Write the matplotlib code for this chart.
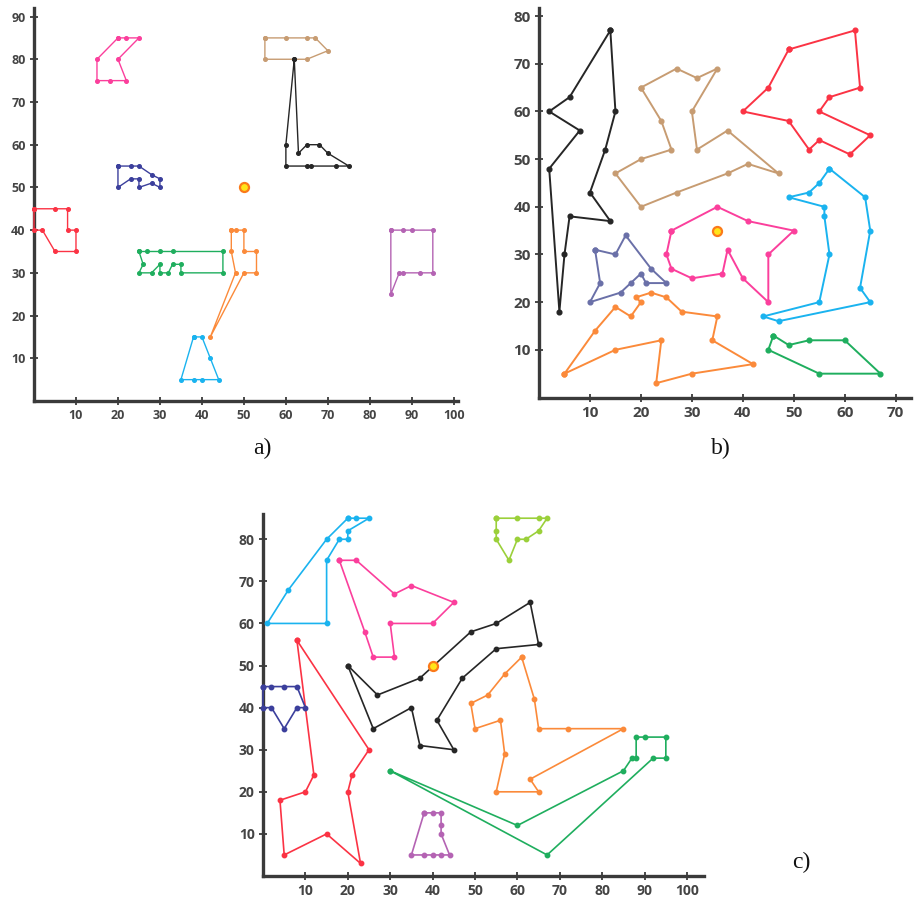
import matplotlib
matplotlib.use("Agg")
import matplotlib.pyplot as plt

# ---------------- data: panel a ----------------
A_PINK = [(20, 85), (22, 85), (25, 85), (20, 80), (22, 75), (18, 75), (15, 75), (15, 80)]
A_NAVY = [(20, 55), (23, 55), (25, 55), (28, 53), (30, 52), (30, 50), (28, 51), (25, 50),
          (25, 52), (23, 52), (20, 50)]
A_RED = [(0, 45), (5, 45), (8, 45), (8, 40), (10, 40), (10, 35), (5, 35), (2, 40), (0, 40)]
A_GREEN = [(25, 35), (27, 35), (30, 35), (33, 35), (45, 35), (45, 30), (35, 30), (35, 32),
           (33, 32), (32, 30), (30, 30), (30, 32), (28, 30), (25, 30), (26, 32)]
A_ORANGE = [(47, 40), (48, 40), (50, 40), (50, 35), (53, 35), (53, 30), (50, 30), (42, 15),
            (48, 30), (47, 35)]
A_CYAN = [(38, 15), (40, 15), (42, 10), (44, 5), (40, 5), (38, 5), (35, 5)]
A_PURPLE = [(85, 40), (88, 40), (90, 40), (95, 40), (95, 30), (92, 30), (88, 30), (87, 30), (85, 25)]
A_TAN = [(55, 85), (60, 85), (65, 85), (67, 85), (70, 82), (65, 80), (55, 80)]
A_BLACK = [(62, 80), (63, 58), (65, 60), (68, 60), (70, 58), (75, 55), (72, 55), (66, 55),
           (65, 55), (60, 55), (60, 60)]
A_CENTER = (50, 50)

# ---------------- data: panel b ----------------
B_BLACK = [(14, 77), (15, 60), (13, 52), (10, 43), (14, 37), (6, 38), (5, 30), (4, 18),
           (2, 48), (8, 56), (2, 60), (6, 63)]
B_TAN = [(20, 65), (27, 69), (31, 67), (35, 69), (30, 60), (31, 52), (37, 56), (47, 47),
         (41, 49), (37, 47), (27, 43), (20, 40), (15, 47), (20, 50), (26, 52), (24, 58)]
B_RED = [(49, 73), (62, 77), (63, 65), (57, 63), (55, 60), (65, 55), (61, 51), (55, 54),
         (53, 52), (49, 58), (40, 60), (45, 65)]
B_CYAN = [(57, 48), (64, 42), (65, 35), (63, 23), (65, 20), (47, 16), (44, 17), (55, 20),
          (57, 30), (56, 38), (56, 40), (49, 42), (53, 43), (55, 45)]
B_PINK = [(26, 35), (35, 40), (41, 37), (50, 35), (45, 30), (45, 20), (40, 25), (37, 31),
          (36, 26), (30, 25), (26, 27), (25, 30)]
B_SLATE = [(11, 31), (15, 30), (17, 34), (22, 27), (25, 24), (21, 24), (20, 26), (18, 24),
           (16, 22), (10, 20), (12, 24)]
B_ORANGE = [(5, 5), (11, 14), (15, 19), (18, 17), (20, 20), (19, 21), (22, 22), (25, 21),
            (28, 18), (35, 17), (34, 12), (42, 7), (30, 5), (23, 3), (24, 12), (15, 10)]
B_GREEN = [(46, 13), (49, 11), (53, 12), (60, 12), (67, 5), (55, 5), (45, 10)]
B_CENTER = (35, 35)

# ---------------- data: panel c ----------------
C_CYAN = [(20, 85), (22, 85), (25, 85), (20, 82), (20, 80), (18, 80), (15, 75), (15, 60),
          (1, 60), (6, 68), (15, 80)]
C_PINK = [(18, 75), (22, 75), (31, 67), (35, 69), (45, 65), (40, 60), (30, 60), (31, 52),
          (26, 52), (24, 58)]
C_LIME = [(55, 85), (60, 85), (65, 85), (67, 85), (65, 82), (62, 80), (60, 80), (58, 75),
          (55, 80), (55, 82)]
C_BLACK = [(20, 50), (27, 43), (37, 47), (49, 58), (55, 60), (63, 65), (65, 55), (55, 54),
           (47, 47), (41, 37), (45, 30), (37, 31), (35, 40), (26, 35)]
C_RED = [(8, 56), (25, 30), (21, 24), (20, 20), (23, 3), (15, 10), (5, 5), (4, 18),
         (10, 20), (12, 24)]
C_NAVY = [(0, 45), (2, 45), (5, 45), (8, 45), (10, 40), (8, 40), (5, 35), (2, 40), (0, 40)]
C_PURPLE = [(38, 15), (40, 15), (42, 15), (42, 12), (42, 10), (44, 5), (42, 5), (40, 5),
            (38, 5), (35, 5)]
C_ORANGE = [(61, 52), (64, 42), (65, 35), (72, 35), (85, 35), (63, 23), (65, 20), (55, 20),
            (57, 29), (56, 37), (50, 35), (49, 41), (53, 43), (57, 48)]
C_GREEN = [(30, 25), (60, 12), (85, 25), (87, 28), (88, 28), (88, 33), (90, 33), (95, 33),
           (95, 28), (92, 28), (67, 5)]
C_CENTER = (40, 50)

A_XTICKS = [10, 20, 30, 40, 50, 60, 70, 80, 90, 100]
A_YTICKS = [10, 20, 30, 40, 50, 60, 70, 80, 90]
B_XTICKS = [10, 20, 30, 40, 50, 60, 70]
B_YTICKS = [10, 20, 30, 40, 50, 60, 70, 80]
C_XTICKS = [10, 20, 30, 40, 50, 60, 70, 80, 90, 100]
C_YTICKS = [10, 20, 30, 40, 50, 60, 70, 80]

PINK = "#fb3f9c"
NAVY = "#3b3f9c"
SLATE = "#6a70a8"
RED = "#fb3344"
GREEN = "#1fae5e"
ORANGE = "#fb8a3a"
CYAN = "#1ab3ef"
PURPLE = "#b463b3"
TAN = "#c79c72"
BLACK = "#262626"
LIME = "#9bd03a"

W, H = 917, 908
fig = plt.figure(figsize=(W / 100, H / 100), dpi=100)


def make_axes(left, bottom, right, top, xlim, ylim, xticks, yticks, fs):
    ax = fig.add_axes([left / W, 1 - bottom / H, (right - left) / W, (bottom - top) / H])
    ax.set_xlim(*xlim)
    ax.set_ylim(*ylim)
    for s in ("top", "right"):
        ax.spines[s].set_visible(False)
    for s in ("left", "bottom"):
        ax.spines[s].set_linewidth(2.4)
        ax.spines[s].set_color("#3a3a3a")
    ax.set_xticks(xticks)
    ax.set_yticks(yticks)
    ax.tick_params(direction="inout", length=6, width=1.3, color="#3a3a3a",
                   labelsize=fs, labelcolor="#444444", pad=3)
    for lab in ax.get_xticklabels() + ax.get_yticklabels():
        lab.set_fontfamily("Open Sans")
        lab.set_fontweight("bold")
    ax.patch.set_alpha(0)
    return ax


def poly(ax, pts, color, lw=1.2, ms=3.2):
    xs = [p[0] for p in pts] + [pts[0][0]]
    ys = [p[1] for p in pts] + [pts[0][1]]
    ax.plot(xs, ys, color=color, lw=lw, marker="o", ms=ms, mec=color, mfc=color,
            solid_joinstyle="round", clip_on=False, zorder=3)


def center(ax, pt):
    ax.plot([pt[0]], [pt[1]], marker="o", ms=6.5, mfc="#ffe41a", mec="#fb7a1a", mew=1.6,
            zorder=4, clip_on=False)


# panel a
axa = make_axes(34, 401, 458, 8, (0, 101), (0, 92), A_XTICKS, A_YTICKS, 9)
for pts, col in [(A_PINK, PINK), (A_NAVY, NAVY), (A_RED, RED), (A_GREEN, GREEN),
                 (A_ORANGE, ORANGE), (A_CYAN, CYAN), (A_PURPLE, PURPLE), (A_TAN, TAN),
                 (A_BLACK, BLACK)]:
    poly(axa, pts, col, lw=1.0, ms=2.6)
center(axa, A_CENTER)

# panel b
axb = make_axes(539, 397.5, 911, 8, (0, 73), (0, 81.7), B_XTICKS, B_YTICKS, 11)
for pts, col in [(B_BLACK, BLACK), (B_TAN, TAN), (B_RED, RED), (B_CYAN, CYAN),
                 (B_PINK, PINK), (B_SLATE, SLATE), (B_ORANGE, ORANGE), (B_GREEN, GREEN)]:
    poly(axb, pts, col, lw=1.4, ms=3.4)
center(axb, B_CENTER)

# panel c
axc = make_axes(263, 876, 704, 514, (0, 104), (0, 86), C_XTICKS, C_YTICKS, 10)
for pts, col in [(C_CYAN, CYAN), (C_PINK, PINK), (C_LIME, LIME), (C_BLACK, BLACK),
                 (C_RED, RED), (C_NAVY, NAVY), (C_PURPLE, PURPLE), (C_ORANGE, ORANGE),
                 (C_GREEN, GREEN)]:
    poly(axc, pts, col, lw=1.2, ms=3.2)
center(axc, C_CENTER)

for txt, x, y in [("a)", 262, 448), ("b)", 721, 448), ("c)", 801, 862)]:
    fig.text(x / W, 1 - y / H, txt, fontsize=17, family="Liberation Serif",
             ha="center", va="center", color="#111111")

fig.savefig("out.png", dpi=100, facecolor="white")
